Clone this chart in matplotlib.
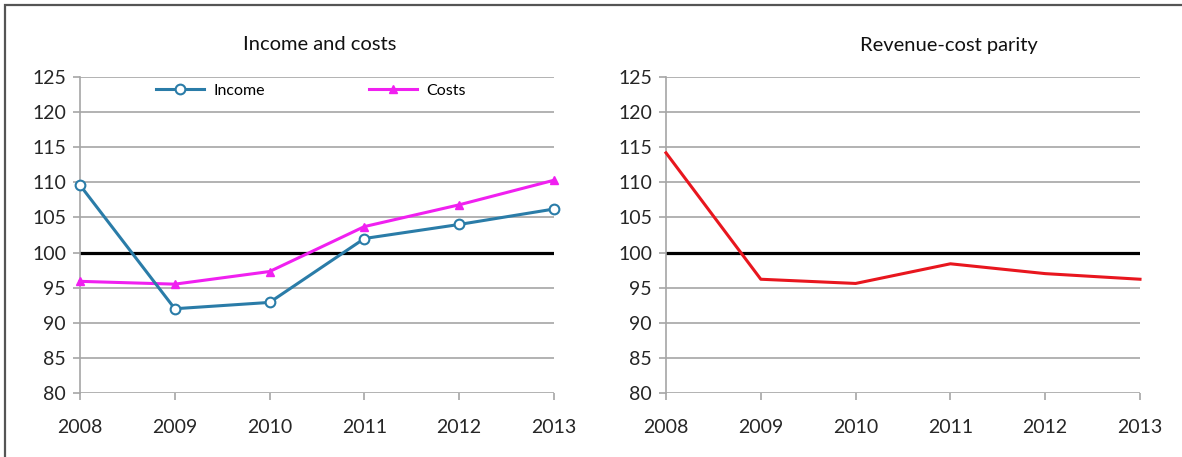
import matplotlib
matplotlib.use("Agg")
import matplotlib.pyplot as plt
from matplotlib.patches import Rectangle

years = [2008, 2009, 2010, 2011, 2012, 2013]
income = [109.6, 92.0, 92.9, 102.0, 104.0, 106.2]
costs = [95.9, 95.5, 97.3, 103.7, 106.8, 110.3]
parity = [114.2, 96.2, 95.6, 98.4, 97.0, 96.2]
yticks = [80, 85, 90, 95, 100, 105, 110, 115, 120, 125]
parity_level = 100

plt.rcParams['font.family'] = ['Lato', 'DejaVu Sans']

fig = plt.figure(figsize=(11.82, 4.57), dpi=100)
W, H = 1182, 457

def setup(ax):
    ax.set_xlim(years[0], years[-1])
    ax.set_ylim(yticks[0], yticks[-1])
    ax.set_yticks(yticks)
    ax.set_xticks(years)
    ax.set_xticklabels([str(y) for y in years])
    ax.grid(axis='y', color='#a6a6a6', lw=1.2, zorder=0)
    for s in ['top', 'right', 'bottom']:
        ax.spines[s].set_visible(False)
    ax.spines['left'].set_color('#a6a6a6')
    ax.spines['left'].set_linewidth(1.2)
    ax.tick_params(axis='both', colors='#a6a6a6', labelcolor='#262626',
                   labelsize=14, length=5, width=1.2, direction='out')
    ax.tick_params(axis='x', pad=14)
    ax.tick_params(axis='y', pad=5)
    ax.axhline(parity_level, color='black', lw=2.3, zorder=2)

ax1 = fig.add_axes([80 / W, 1 - 393 / H, 474 / W, 316 / H])
setup(ax1)
ax1.plot(years, income, color='#2a7ca8', lw=2.2, marker='o', ms=7,
         mfc='white', mec='#2a7ca8', mew=1.5, label='Income', zorder=4, clip_on=False)
ax1.plot(years, costs, color='#f020f0', lw=2.2, marker='^', ms=5.5,
         label='Costs', zorder=3, clip_on=False)
leg = ax1.legend(loc='upper left', bbox_to_anchor=(0.13, 1.025), ncol=2, frameon=False,
                 fontsize=11.5, columnspacing=6.5, handlelength=3.0, handletextpad=0.6)

ax2 = fig.add_axes([666 / W, 1 - 393 / H, 474 / W, 316 / H])
setup(ax2)
ax2.plot(years, parity, color='#e8161e', lw=2.2, zorder=3, clip_on=False)

fig.text(320 / W, 1 - 45 / H, 'Income and costs', ha='center', va='center',
         fontsize=14.5, color='#111111')
fig.text(949 / W, 1 - 45 / H, 'Revenue-cost parity', ha='center', va='center',
         fontsize=14.5, color='#111111')

fig.patches.append(Rectangle((5 / W, -0.05), 1.2, 1 - 5 / H + 0.05, transform=fig.transFigure,
                             fill=False, edgecolor='#555555', lw=1.6))

fig.savefig('out.png', dpi=100)
